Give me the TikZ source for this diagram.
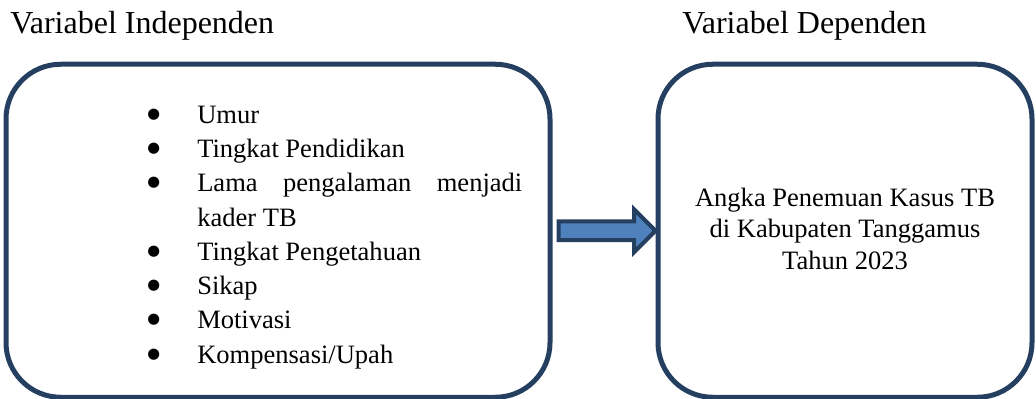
\documentclass[tikz,border=0pt]{standalone}
\usepackage{fontspec}
\setmainfont{Liberation Serif}
\newfontfamily\dotfont{DejaVu Sans}
\usetikzlibrary{positioning, shapes.arrows}
\definecolor{boxline}{HTML}{243F60}
\definecolor{arrowfill}{HTML}{4F81BD}
\newcommand{\factorlabel}[1]{#1\hfil}
\newcommand{\bigdot}{\raisebox{3.8pt}{\dotfont\fontsize{11}{11}\selectfont ●}}
\newenvironment{factorlist}{%
  \begin{list}{\bigdot}{%
    \setlength{\leftmargin}{37.5pt}\setlength{\labelwidth}{37.5pt}%
    \setlength{\labelsep}{0pt}\setlength{\itemindent}{0pt}%
    \setlength{\itemsep}{0pt}\setlength{\parsep}{0pt}%
    \setlength{\topsep}{0pt}\setlength{\partopsep}{0pt}%
    \let\makelabel\factorlabel}}
  {\end{list}}
\tikzset{
  varbox/.style={rectangle, draw=boxline, line width=3.75pt, rounded corners=41pt, minimum height=249.75pt, inner sep=0pt},
  heading/.style={anchor=base west, inner sep=0pt, font=\fontsize{24}{28}\selectfont},
  body/.style={inner sep=0pt, font=\fontsize{19.9}{25.7}\selectfont},
  blockarrow/.style={single arrow, draw=boxline, fill=arrowfill, line width=3pt, inner sep=0pt, inner ysep=5.6pt, single arrow head extend=9pt, minimum height=72.75pt}
}

\begin{document}
\begin{tikzpicture}[x=0.75pt, y=-0.75pt]
    \useasboundingbox (0,0) rectangle (1036,399);
    \node[heading] (indeptitle) at (10,34) {Variabel Independen};
    \node[heading] (deptitle) at (682,34) {Variabel Dependen};

    \node[varbox, minimum width=408pt] (indep) at (278,230.75) {};
    \node[varbox, minimum width=280.5pt] (dep) at (845,230.75) {};
    \node[blockarrow, right=3pt of indep] (arr) {};

    \node[body, anchor=base west, text width=281.25pt, align=justify] (factors) at (147,89) {%
      \begin{factorlist}
        \item Umur
        \item Tingkat Pendidikan
        \item Lama pengalaman menjadi kader TB
        \item Tingkat Pengetahuan
        \item Sikap
        \item Motivasi
        \item Kompensasi/Upah
      \end{factorlist}};
    \node[body, align=center, font=\fontsize{19.9}{23.5}\selectfont] (outcome) at ([yshift=1.5pt]dep.center) {Angka Penemuan Kasus TB\\di Kabupaten Tanggamus\\Tahun 2023};
  \end{tikzpicture}
\end{document}
